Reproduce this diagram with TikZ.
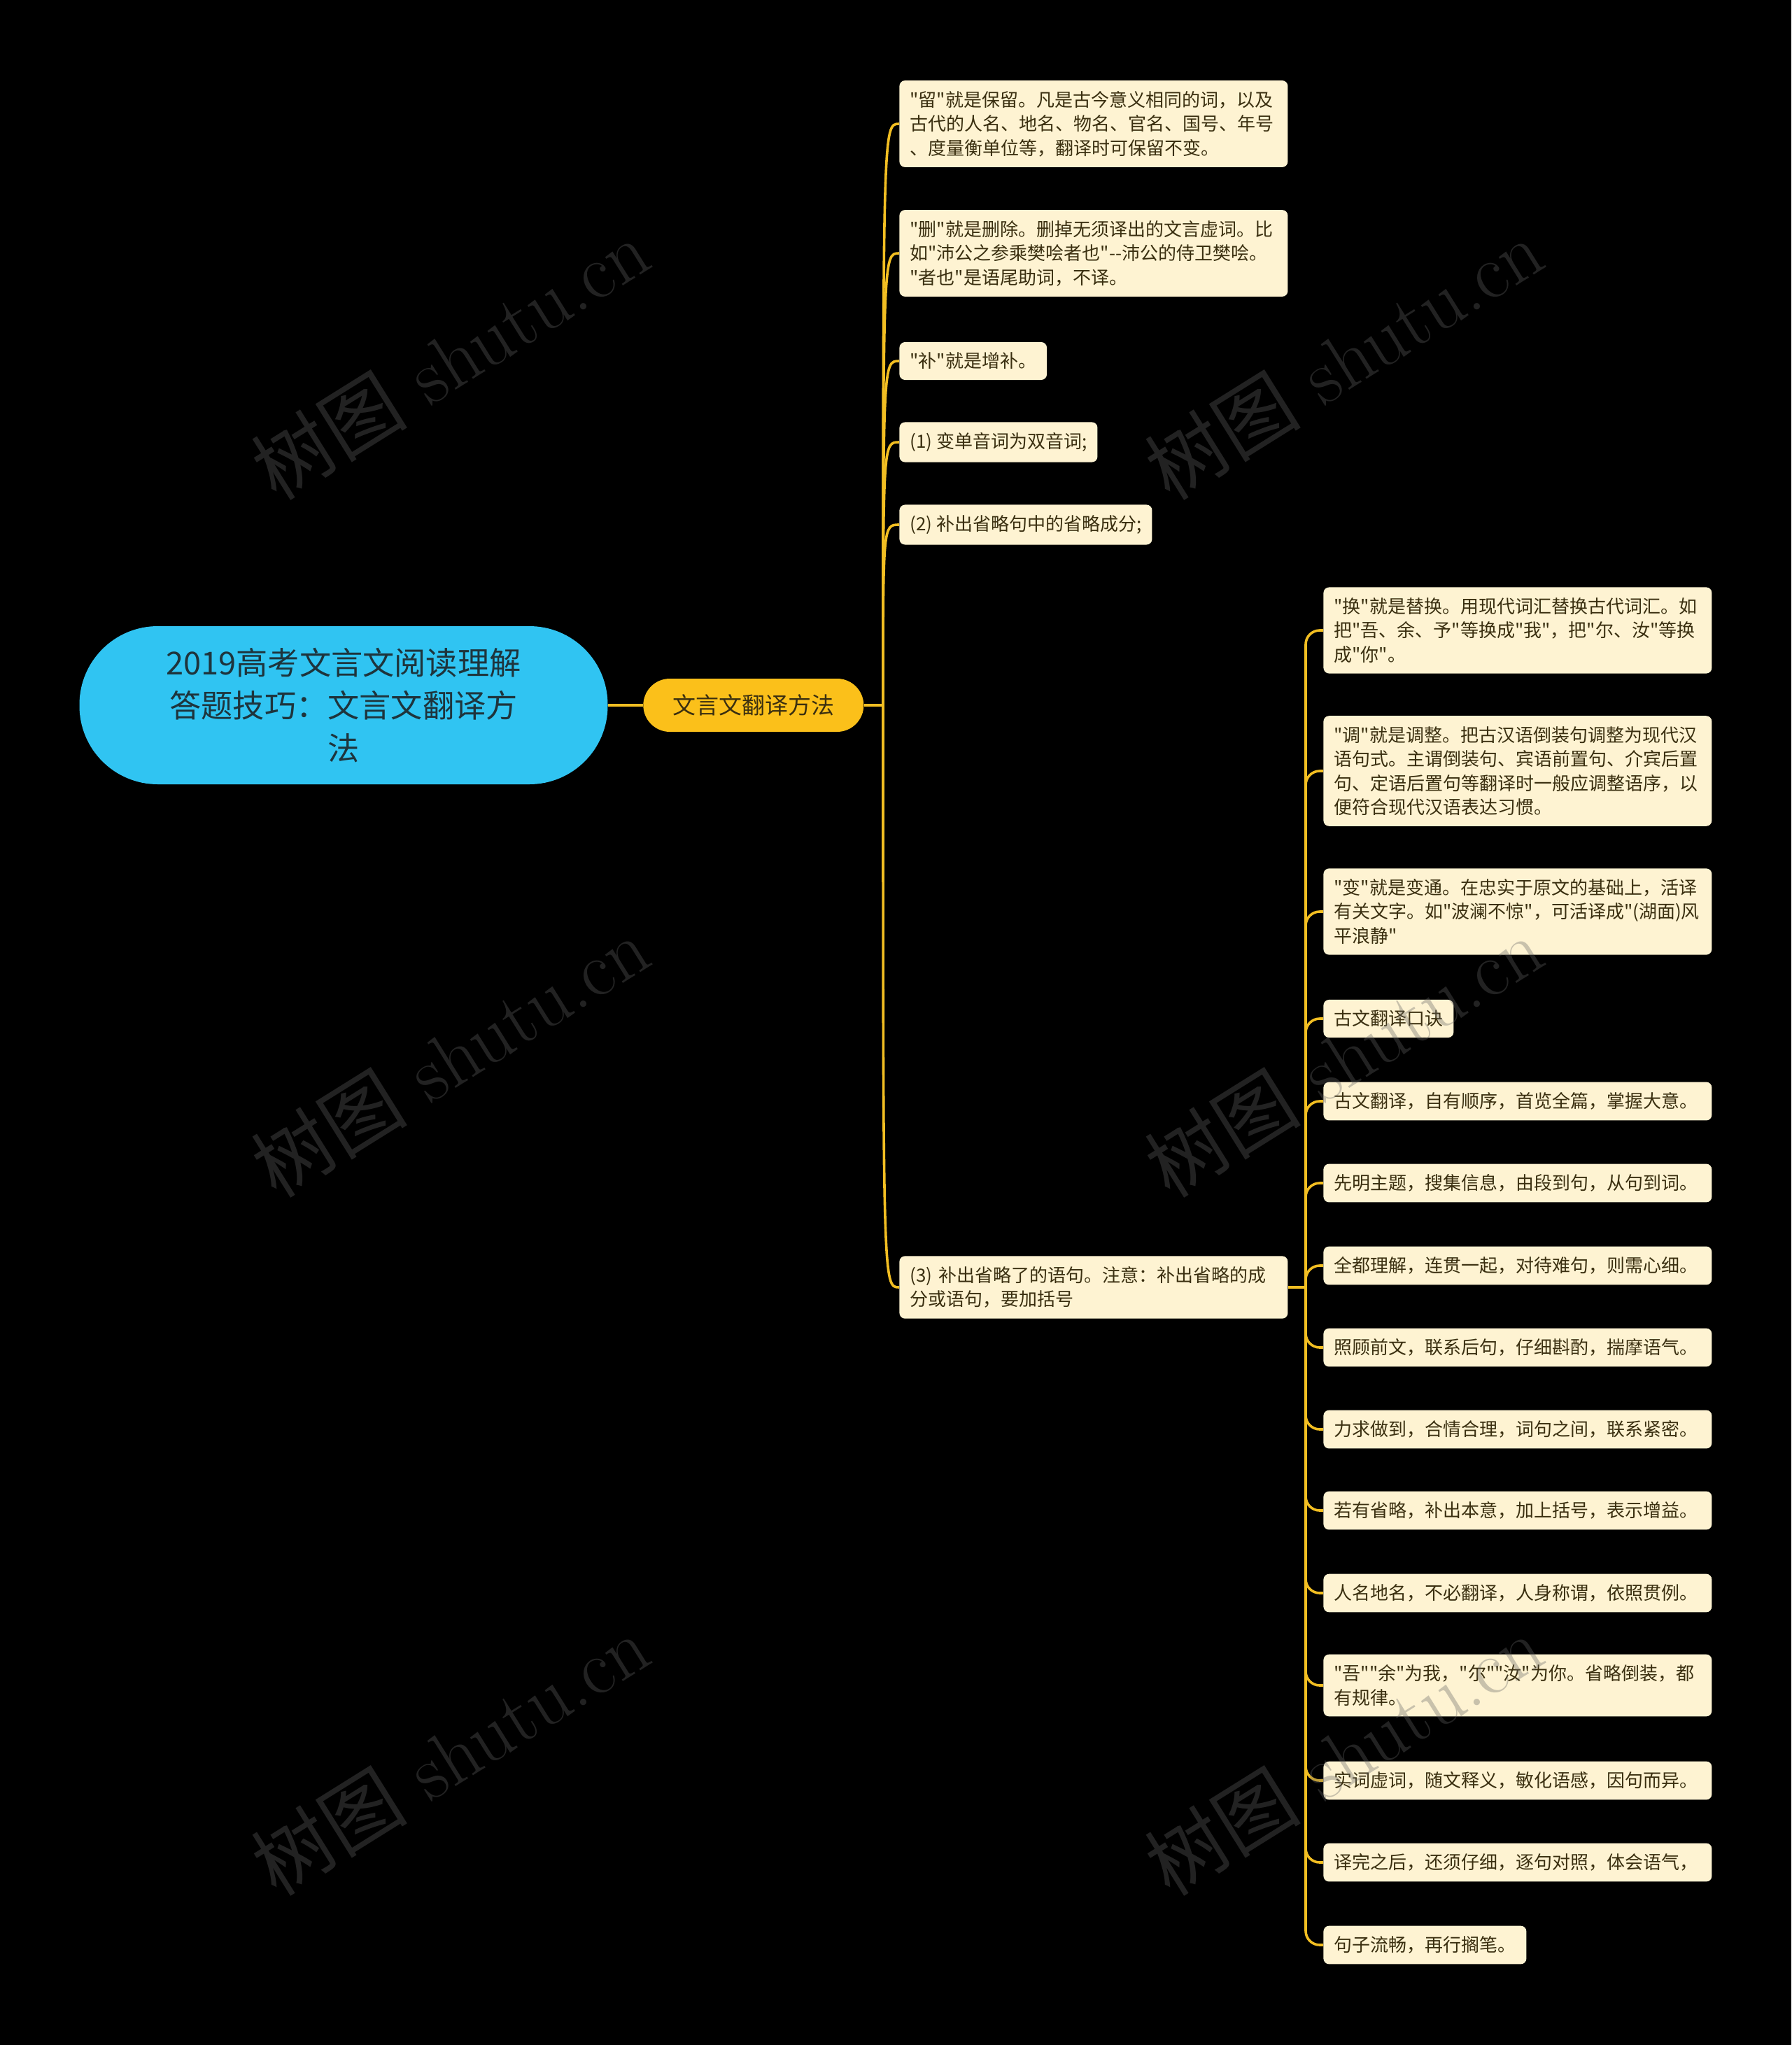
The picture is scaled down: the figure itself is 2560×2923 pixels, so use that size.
\documentclass[tikz,border=0pt]{standalone}
\usepackage{fontspec}
\newfontfamily\cjk{Noto Sans CJK SC}
\usepackage{xcolor}
\definecolor{bgblack}{HTML}{000000}
\definecolor{rootblue}{HTML}{30C4F2}
\definecolor{roottext}{HTML}{1E343C}
\definecolor{branchgold}{HTML}{FBC01A}
\definecolor{linkgold}{HTML}{F2BE22}
\definecolor{leafcream}{HTML}{FEF3D2}
\definecolor{leaftext}{HTML}{3A2F10}
\definecolor{wmgray}{HTML}{646464}
\usepackage{tikz}
\usetikzlibrary{
  positioning,
  backgrounds
}

\begin{document}
\begin{tikzpicture}[
  x=0.5pt, y=-0.5pt,
  root/.style={rectangle, rounded corners=56pt, fill=rootblue, text=roottext, minimum width=377.5pt, minimum height=113pt, align=center, font=\cjk\fontsize{22.6}{30.5}\selectfont},
  branch/.style={rectangle, rounded corners=19pt, fill=branchgold, text=leaftext, minimum width=157.5pt, minimum height=38pt, font=\cjk\fontsize{16.5}{20}\selectfont},
  leaf/.style={rectangle, rounded corners=4pt, fill=leafcream, text=leaftext, anchor=west, align=left, inner xsep=7.5pt, inner ysep=7.5pt, font=\cjk\fontsize{13}{17.25}\selectfont},
  wide/.style={leaf, text width=262.5pt},
  link/.style={draw=linkgold, line width=1.8pt},
  wmark/.style={rotate=32, text=wmgray, text opacity=0.35, font=\fontsize{56}{60}\selectfont},
]
\useasboundingbox (0,0) rectangle (2560,2923);

% Raiz y rama
\node[root] (root) at (491,1008) {2019高考文言文阅读理解\\答题技巧：文言文翻译方\\法};
\node[branch, right=25pt of root] (meth) {文言文翻译方法};

% Hojas de la rama
\node[wide] (liu) at (1285,177) {"留"就是保留。凡是古今意义相同的词，以及\\古代的人名、地名、物名、官名、国号、年号\\、度量衡单位等，翻译时可保留不变。};
\node[wide] (shan) at (1285,362) {"删"就是删除。删掉无须译出的文言虚词。比\\如"沛公之参乘樊哙者也"-{}-沛公的侍卫樊哙。\\"者也"是语尾助词，不译。};
\node[leaf] (bu) at (1285,516) {"补"就是增补。};
\node[leaf] (one) at (1285,632) {(1) 变单音词为双音词;};
\node[leaf] (two) at (1285,750) {(2) 补出省略句中的省略成分;};
\node[wide] (three) at (1285,1840) {(3) 补出省略了的语句。注意：补出省略的成\\分或语句，要加括号};

% Hojas de (3)
\node[wide] (huan) at (1891,901) {"换"就是替换。用现代词汇替换古代词汇。如\\把"吾、余、予"等换成"我"，把"尔、汝"等换\\成"你"。};
\node[wide] (tiao) at (1891,1102) {"调"就是调整。把古汉语倒装句调整为现代汉\\语句式。主谓倒装句、宾语前置句、介宾后置\\句、定语后置句等翻译时一般应调整语序，以\\便符合现代汉语表达习惯。};
\node[wide] (bian) at (1891,1303) {"变"就是变通。在忠实于原文的基础上，活译\\有关文字。如"波澜不惊"，可活译成"(湖面)风\\平浪静"};
\node[leaf] (jue) at (1891,1456) {古文翻译口诀};
\node[wide] (jue1) at (1891,1574) {古文翻译，自有顺序，首览全篇，掌握大意。};
\node[wide] (jue2) at (1891,1691) {先明主题，搜集信息，由段到句，从句到词。};
\node[wide] (jue3) at (1891,1809) {全都理解，连贯一起，对待难句，则需心细。};
\node[wide] (jue4) at (1891,1926) {照顾前文，联系后句，仔细斟酌，揣摩语气。};
\node[wide] (jue5) at (1891,2043) {力求做到，合情合理，词句之间，联系紧密。};
\node[wide] (jue6) at (1891,2159) {若有省略，补出本意，加上括号，表示增益。};
\node[wide] (jue7) at (1891,2277) {人名地名，不必翻译，人身称谓，依照贯例。};
\node[wide] (jue8) at (1891,2409) {"吾""余"为我，"尔""汝"为你。省略倒装，都\\有规律。};
\node[wide] (jue9) at (1891,2545) {实词虚词，随文释义，敏化语感，因句而异。};
\node[wide] (jue10) at (1891,2662) {译完之后，还须仔细，逐句对照，体会语气，};
\node[leaf] (jue11) at (1891,2780) {句子流畅，再行搁笔。};

% Conectores
\coordinate (hub1) at (1262,1008);
\coordinate (hub2) at (1866,1840);
\begin{scope}[on background layer]
\fill[bgblack] (0,0) rectangle (2560,2923);
\draw[link] (root) -- (meth);
\draw[link] (meth.east) -- (hub1);
\foreach \n in {liu,shan,bu,one,two,three}
  \draw[link] (hub1) .. controls (hub1 |- \n.west) .. (\n.west);
\draw[link] (three.east) -- (hub2);
\foreach \n in {huan,tiao,bian,jue,jue1,jue2,jue3,jue4,jue5,jue6,jue7,jue8,jue9,jue10,jue11}
  \draw[link, rounded corners=10pt] (hub2) -- (hub2 |- \n.west) -- (\n.west);
\end{scope}

% Marcas de agua
\foreach \wx/\wy [count=\i] in {643/513, 1920/513, 643/1510, 1920/1510, 643/2508, 1920/2508}
  \node[wmark] (wm\i) at (\wx,\wy) {{\cjk 树图} shutu.cn};

\end{tikzpicture}
\end{document}
